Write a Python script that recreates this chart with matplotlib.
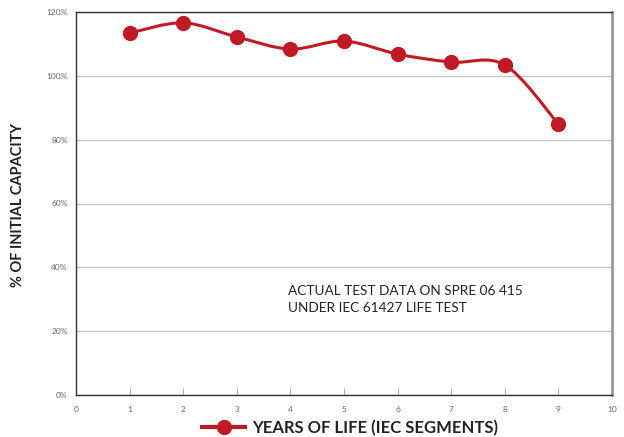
import matplotlib
matplotlib.use("Agg")
import matplotlib.pyplot as plt
from matplotlib.path import Path
from matplotlib.patches import PathPatch
import numpy as np

years = [1, 2, 3, 4, 5, 6, 7, 8, 9]
capacity = [113.4, 116.6, 112.2, 108.4, 110.9, 106.8, 104.3, 103.4, 84.9]
y_ticks = [0, 20, 40, 60, 80, 100, 120]
x_ticks = list(range(0, 11))

red = "#c01a24"
plt.rcParams['font.family'] = ['Lato', 'DejaVu Sans']

fig = plt.figure(figsize=(6.24, 4.37), dpi=100)
ax = fig.add_axes([76/624, 42/437, 536/624, 383/437])

# smooth curve through the points (Catmull-Rom as cubic Bezier segments)
x = np.array(years, float)
y = np.array(capacity, float)
verts = [(x[0], y[0])]
codes = [Path.MOVETO]
for i in range(len(x) - 1):
    p0 = (x[i-1], y[i-1]) if i > 0 else (x[i], y[i])
    p3 = (x[i+2], y[i+2]) if i + 2 < len(x) else (x[i+1], y[i+1])
    c1 = (x[i] + (x[i+1] - p0[0]) / 6, y[i] + (y[i+1] - p0[1]) / 6)
    c2 = (x[i+1] - (p3[0] - x[i]) / 6, y[i+1] - (p3[1] - y[i]) / 6)
    verts += [c1, c2, (x[i+1], y[i+1])]
    codes += [Path.CURVE4] * 3
ax.add_patch(PathPatch(Path(verts, codes), fill=False, edgecolor=red, lw=2.2, zorder=3))
ax.plot(years, capacity, "o", color=red, ms=10, zorder=4)
ax.plot([], [], "-o", color=red, lw=3, ms=10, label="YEARS OF LIFE (IEC SEGMENTS)")

ax.set_xlim(0, 10)
ax.set_ylim(0, 120)
ax.set_xticks(x_ticks)
ax.set_yticks(y_ticks)
ax.set_yticklabels([f"{v}%" for v in y_ticks])
ax.yaxis.grid(True, color="#c4c4c4", lw=1)
ax.set_axisbelow(True)
ax.tick_params(axis="x", direction="in", length=5, color="#aaaaaa", labelsize=6,
               labelcolor="#666666", pad=8)
ax.tick_params(axis="y", length=0, labelsize=6, labelcolor="#666666", pad=6)
for s in ["left", "top", "bottom"]:
    ax.spines[s].set_color("#333333")
    ax.spines[s].set_linewidth(1)
ax.spines["right"].set_color("#999999")
ax.spines["right"].set_linewidth(2)

fig.text(18/624, 1 - 205/437, "% OF INITIAL CAPACITY", rotation=90, fontsize=10.5,
         fontweight="bold", color="#222222", ha="center", va="center")
ax.text(3.95, 29.8, "ACTUAL TEST DATA ON SPRE 06 415\nUNDER IEC 61427 LIFE TEST",
        fontsize=9.8, color="#222222", linespacing=1.5, va="center")

fig.legend(loc="center", bbox_to_anchor=(350/624, 1 - 428/437), frameon=False,
           prop={"size": 12, "weight": "bold"}, handlelength=2.6, labelcolor="#222222",
           handletextpad=0.4, borderpad=0.1)

fig.savefig("out.png", dpi=100)
